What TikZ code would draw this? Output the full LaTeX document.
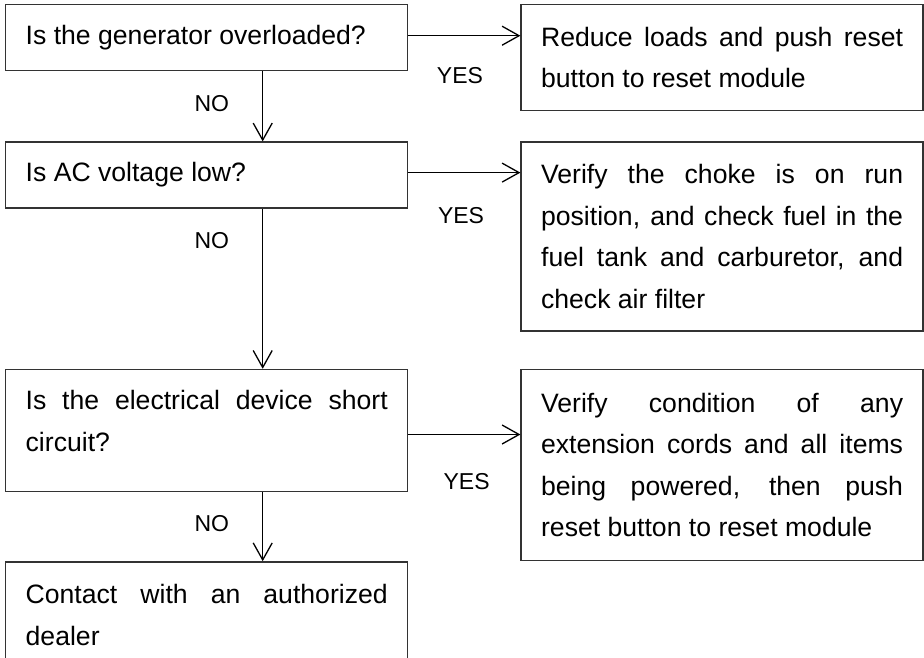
\documentclass[tikz,border=0pt]{standalone}
\usepackage{fontspec}
\setmainfont{Liberation Sans}
\usetikzlibrary{arrows.meta,positioning}
\tolerance=10000
\hyphenpenalty=10000

\begin{document}
\begin{tikzpicture}[
    box/.style={draw=black!80,line width=1.4pt,align=justify,
      text width=362pt,inner xsep=20pt,inner ysep=0pt,
      font=\fontsize{26.6}{41.5}\selectfont},
    tag/.style={inner sep=0pt,font=\fontsize{23}{27}\selectfont},
    flow/.style={-{Straight Barb[length=17pt,width=19pt]},line width=1.3pt}
  ]
    \useasboundingbox (0,0) rectangle (924pt,-657pt);
    \node[box,minimum height=66pt,anchor=north west] (q1) at (5pt,-4pt)
      {Is the generator overloaded?};
    \node[box,minimum height=66pt,below=70pt of q1] (q2)
      {Is AC voltage low?};
    \node[box,minimum height=122pt,text depth=61pt,below=160pt of q2] (q3)
      {Is the electrical device short\linebreak circuit?};
    \node[box,minimum height=106pt,below=69pt of q3] (q4)
      {Contact with an authorized\linebreak dealer};
    \node[box,minimum height=106pt,right=112pt of q1.north east,anchor=north west] (r1)
      {Reduce loads and push reset\linebreak button to reset module};
    \node[box,minimum height=189pt,right=112pt of q2.north east,anchor=north west] (r2)
      {Verify the choke is on run\linebreak position, and check fuel in the\linebreak
       fuel tank and carburetor, and\linebreak check air filter};
    \node[box,minimum height=191pt,right=112pt of q3.north east,anchor=north west] (r3)
      {Verify condition of any\linebreak extension cords and all items\linebreak
       being powered, then push\linebreak reset button to reset module};
    \draw[flow] ([xshift=56pt]q1.south) -- ([xshift=56pt]q2.north)
      node[tag,pos=0.46,left=33pt] (no1) {NO};
    \draw[flow] ([xshift=56pt]q2.south) -- ([xshift=56pt]q3.north)
      node[tag,pos=0.2,left=33pt] (no2) {NO};
    \draw[flow] ([xshift=56pt]q3.south) -- ([xshift=56pt]q4.north)
      node[tag,pos=0.45,left=33pt] (no3) {NO};
    \draw[flow] ([yshift=2pt]q1.east) -- ([yshift=2pt]q1.east -| r1.west)
      node[tag,pos=0.46,below=31pt] (yes1) {YES};
    \draw[flow] ([yshift=2.5pt]q2.east) -- ([yshift=2.5pt]q2.east -| r2.west)
      node[tag,pos=0.47,below=34pt] (yes2) {YES};
    \draw[flow] ([yshift=-4pt]q3.east) -- ([yshift=-4pt]q3.east -| r3.west)
      node[tag,pos=0.52,below=38pt] (yes3) {YES};
  \end{tikzpicture}
\end{document}
